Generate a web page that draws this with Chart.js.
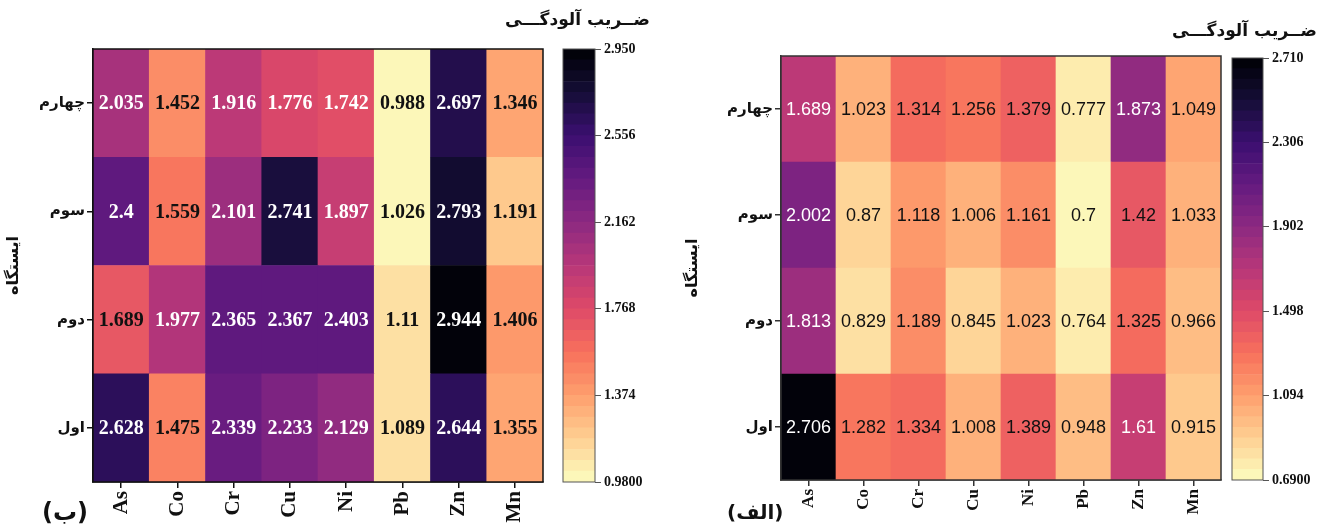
<!DOCTYPE html>
<html>
<head>
<meta charset="utf-8">
<script src="https://cdn.jsdelivr.net/npm/chart.js"></script>
<style>
  body { margin: 0; background: #fff; }
  #wrap { position: relative; width: 1331px; height: 532px; }
  .box { position: absolute; top: 0; height: 532px; }
</style>
</head>
<body>
<div id="wrap">
  <div class="box" style="left:0;width:665px"><canvas id="heatB"></canvas></div>
  <div class="box" style="left:555px;width:110px"><canvas id="barB"></canvas></div>
  <div class="box" style="left:665px;width:666px"><canvas id="heatA"></canvas></div>
  <div class="box" style="left:1224px;width:107px"><canvas id="barA"></canvas></div>
</div>
<script>
const columns = ['As', 'Co', 'Cr', 'Cu', 'Ni', 'Pb', 'Zn', 'Mn'];
const stations = ['اول', 'دوم', 'سوم', 'چهارم']; // bottom to top

// panel (ب)
const leftRow1 = [2.628, 1.475, 2.339, 2.233, 2.129, 1.089, 2.644, 1.355];
const leftRow2 = [1.689, 1.977, 2.365, 2.367, 2.403, 1.11, 2.944, 1.406];
const leftRow3 = [2.4, 1.559, 2.101, 2.741, 1.897, 1.026, 2.793, 1.191];
const leftRow4 = [2.035, 1.452, 1.916, 1.776, 1.742, 0.988, 2.697, 1.346];
const leftTicks = [0.98, 1.374, 1.768, 2.162, 2.556, 2.95];
const leftTickLabels = ['0.9800', '1.374', '1.768', '2.162', '2.556', '2.950'];

// panel (الف)
const rightRow1 = [2.706, 1.282, 1.334, 1.008, 1.389, 0.948, 1.61, 0.915];
const rightRow2 = [1.813, 0.829, 1.189, 0.845, 1.023, 0.764, 1.325, 0.966];
const rightRow3 = [2.002, 0.87, 1.118, 1.006, 1.161, 0.7, 1.42, 1.033];
const rightRow4 = [1.689, 1.023, 1.314, 1.256, 1.379, 0.777, 1.873, 1.049];
const rightTicks = [0.69, 1.094, 1.498, 1.902, 2.306, 2.71];
const rightTickLabels = ['0.6900', '1.094', '1.498', '1.902', '2.306', '2.710'];

const LEVELS = 40;
// magma, dark -> light
const magma = [[0,0,4],[20,14,54],[59,15,112],[100,26,128],[140,41,129],[183,55,121],
               [222,73,104],[247,112,92],[254,159,109],[254,207,146],[252,253,191]];

function magmaAt(t) {
  t = Math.max(0, Math.min(1, t));
  const p = t * 10, i = Math.min(9, Math.floor(p)), f = p - i;
  const a = magma[i], b = magma[i + 1];
  const c = a.map((x, k) => Math.round(x + (b[k] - x) * f));
  return `rgb(${c[0]},${c[1]},${c[2]})`;
}
function levelColor(i) {
  return magmaAt(1 - (i + 0.5) / LEVELS); // reversed: high value = dark
}
function colorFor(v, min, max) {
  const lv = Math.max(0, Math.min(LEVELS - 1, Math.floor((v - min) / (max - min) * LEVELS)));
  return levelColor(lv);
}

const heatDecor = {
  id: 'heatDecor',
  afterDatasetsDraw(chart, args, o) {
    const ctx = chart.ctx;
    ctx.save();
    ctx.font = o.valueFont;
    ctx.textAlign = 'center';
    ctx.textBaseline = 'middle';
    chart.data.datasets.forEach((ds, r) => {
      chart.getDatasetMeta(r).data.forEach((bar, c) => {
        const v = ds.vals[c];
        const p = bar.getCenterPoint();
        ctx.fillStyle = (v - o.min) / (o.max - o.min) > 0.375 ? '#fff' : '#111';
        ctx.fillText(String(v), p.x, p.y + 1);
      });
    });
    const a = chart.chartArea;
    ctx.strokeStyle = o.frame;
    ctx.lineWidth = 1.5;
    ctx.strokeRect(a.left, a.top, a.right - a.left, a.bottom - a.top);
    ctx.restore();
  },
  afterDraw(chart, args, o) {
    const ctx = chart.ctx;
    ctx.save();
    ctx.fillStyle = '#111';
    ctx.textBaseline = 'middle';
    ctx.textAlign = 'right';
    ctx.font = 'bold 17px "DejaVu Sans"';
    ctx.fillText('ضــریب آلودگـــی', o.titleX, o.titleY);
    ctx.textAlign = 'left';
    ctx.font = o.panelFont;
    ctx.fillText(o.panel, o.panelX, o.panelY);
    ctx.restore();
  }
};

const boxFrame = {
  id: 'boxFrame',
  afterDatasetsDraw(chart) {
    const a = chart.chartArea, ctx = chart.ctx;
    ctx.save();
    ctx.strokeStyle = '#555';
    ctx.lineWidth = 1;
    ctx.strokeRect(a.left, a.top, a.right - a.left, a.bottom - a.top);
    ctx.restore();
  }
};

function makeHeat(id, rows, ticks, o) {
  const min = ticks[0], max = ticks[ticks.length - 1];
  new Chart(document.getElementById(id), {
    type: 'bar',
    data: {
      labels: columns,
      datasets: rows.map((vals, r) => ({
        label: stations[r],
        data: columns.map(() => [r, r + 1]),
        vals: vals,
        backgroundColor: vals.map(v => colorFor(v, min, max)),
        borderWidth: 0,
        grouped: false,
        barPercentage: 1,
        categoryPercentage: 1
      }))
    },
    options: {
      responsive: true,
      maintainAspectRatio: false,
      animation: false,
      layout: { padding: { top: o.top, right: o.right, left: 0, bottom: 0 } },
      plugins: {
        legend: { display: false },
        tooltip: { enabled: false },
        heatDecor: Object.assign({ min: min, max: max }, o.decor)
      },
      scales: {
        x: {
          grid: { offset: false, drawOnChartArea: false, tickLength: 6, color: o.line, lineWidth: 1.5 },
          border: { color: o.line, width: 1.5 },
          ticks: { minRotation: 90, maxRotation: 90, font: o.xFont, color: '#111', padding: 3 },
          afterFit: s => { s.height = o.xHeight; }
        },
        y: {
          min: 0,
          max: 4,
          afterBuildTicks: s => { s.ticks = stations.map((_, i) => ({ value: i + 0.5 })); },
          ticks: { callback: (v, i) => stations[i], font: o.yFont, color: '#111', padding: 2 },
          grid: { drawOnChartArea: false, tickLength: 6, color: o.line, lineWidth: 1.5 },
          border: { color: o.line, width: 1.5 },
          title: { display: true, text: 'ایستگاه', font: { family: 'DejaVu Sans', weight: 'bold', size: 16 }, color: '#111', padding: { top: o.titlePad, bottom: 0 } },
          afterFit: s => { s.width = o.yWidth; }
        }
      }
    },
    plugins: [heatDecor]
  });
}

function makeColorbar(id, ticks, labels, o) {
  const min = ticks[0], max = ticks[ticks.length - 1], step = (max - min) / LEVELS;
  const sets = [];
  for (let i = 0; i < LEVELS; i++) {
    sets.push({
      data: [[min + i * step, min + (i + 1) * step]],
      backgroundColor: levelColor(i),
      borderWidth: 0,
      grouped: false,
      barPercentage: 1,
      categoryPercentage: 1
    });
  }
  new Chart(document.getElementById(id), {
    type: 'bar',
    data: { labels: [''], datasets: sets },
    options: {
      responsive: true,
      maintainAspectRatio: false,
      animation: false,
      layout: { padding: { left: 8, top: o.top, bottom: o.bottom, right: 0 } },
      plugins: { legend: { display: false }, tooltip: { enabled: false } },
      scales: {
        x: { display: false },
        y: {
          position: 'right',
          min: min,
          max: max,
          afterBuildTicks: s => { s.ticks = ticks.map(v => ({ value: v })); },
          ticks: { callback: (v, i) => labels[i], font: { family: 'Liberation Serif', weight: 'bold', size: 14 }, color: '#111', padding: 3 },
          grid: { drawOnChartArea: false, tickLength: 6, color: '#555' },
          border: { display: false },
          afterFit: s => { s.width = o.width; }
        }
      }
    },
    plugins: [boxFrame]
  });
}

makeHeat('heatB', [leftRow1, leftRow2, leftRow3, leftRow4], leftTicks, {
  top: 49, right: 122, xHeight: 50, yWidth: 93, titlePad: 4, line: '#111',
  xFont: { family: 'Liberation Serif', weight: 'bold', size: 21 },
  yFont: { family: 'DejaVu Sans', weight: 'bold', size: 15 },
  decor: {
    valueFont: 'bold 20px "Liberation Serif"', frame: '#111',
    titleX: 650, titleY: 21,
    panel: '(ب)', panelX: 42, panelY: 514, panelFont: 'bold 24px "DejaVu Sans"'
  }
});
makeColorbar('barB', leftTicks, leftTickLabels, { top: 49, bottom: 50, width: 70 });

makeHeat('heatA', [rightRow1, rightRow2, rightRow3, rightRow4], rightTicks, {
  top: 56, right: 110, xHeight: 52, yWidth: 116, titlePad: 18, line: '#333',
  xFont: { family: 'Liberation Serif', weight: 'bold', size: 17 },
  yFont: { family: 'DejaVu Sans', weight: 'bold', size: 15 },
  decor: {
    valueFont: '18px "Liberation Sans"', frame: '#333',
    titleX: 652, titleY: 32,
    panel: '(الف)', panelX: 62, panelY: 514, panelFont: 'bold 20px "DejaVu Sans"'
  }
});
makeColorbar('barA', rightTicks, rightTickLabels, { top: 58, bottom: 52, width: 68 });
</script>
</body>
</html>
